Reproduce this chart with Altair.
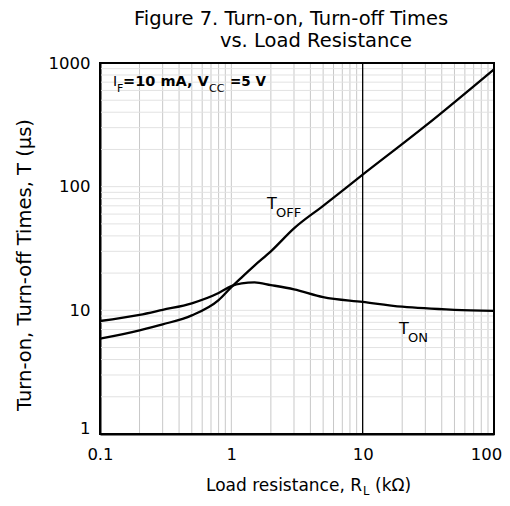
import altair as alt
import pandas as pd

# ---- data ----
r_on = [0.1, 0.2, 0.3, 0.5, 0.8, 1.0, 1.2, 1.5, 2, 3, 5, 10, 20, 50, 100]
t_on = [8.2, 9.2, 10.1, 11.4, 13.8, 15.7, 16.5, 16.8, 16.0, 14.8, 12.8, 11.7, 10.7, 10.1, 9.9]

r_off = [0.1, 0.2, 0.3, 0.5, 0.8, 1.0, 1.2, 1.5, 2, 3, 5, 10, 30, 100]
t_off = [5.9, 6.9, 7.7, 9.1, 12.1, 15.4, 18.5, 23, 30, 46, 70, 125, 310, 890]

x_domain = [0.1, 100]
y_domain = [1, 1000]
x_ticks = [0.1, 1, 10, 100]
y_ticks = [1, 10, 100, 1000]
x_grid = [0.2, 0.3, 0.4, 0.5, 0.6, 0.7, 0.8, 0.9, 1,
          2, 3, 4, 5, 6, 7, 8, 9,
          20, 30, 40, 50, 60, 70, 80, 90]
x_major = [10]
y_grid = [2, 3, 4, 5, 6, 7, 8, 9, 10,
          20, 30, 40, 50, 60, 70, 80, 90, 100,
          200, 300, 400, 500, 600, 700, 800, 900]

FONT = "DejaVu Sans"
W, H = 394, 371
OX, OY = 100, 63  # plot-area origin on page (for annotation placement)

xs = alt.Scale(type="log", domain=x_domain, nice=False)
ys = alt.Scale(type="log", domain=y_domain, nice=False)

x_axis = alt.Axis(values=x_ticks, format="~g", grid=False, ticks=False,
                  domain=True, domainColor="black", domainWidth=2,
                  labelFont=FONT, labelFontSize=16.5, labelColor="black",
                  labelPadding=12, labelFlush=False, title=None,
                  labelOffset=alt.expr("datum.value == 100 ? -8 : 0"))
y_axis = alt.Axis(values=y_ticks, format="~g", grid=False, ticks=False,
                  domain=True, domainColor="black", domainWidth=2,
                  labelFont=FONT, labelFontSize=16.5, labelColor="black",
                  labelPadding=10, title=None,
                  labelOffset=alt.expr("datum.value == 1 ? -6 : 0"))

curves = pd.concat([
    pd.DataFrame({"R": r_on, "T": t_on, "s": "ON"}),
    pd.DataFrame({"R": r_off, "T": t_off, "s": "OFF"}),
])

vgrid = alt.Chart(pd.DataFrame({"v": x_grid})).mark_rule(
    color="#c8c8c8", strokeWidth=1
).encode(x=alt.X("v:Q", scale=xs, axis=x_axis))

hgrid = alt.Chart(pd.DataFrame({"h": y_grid})).mark_rule(
    color="#e2e2e2", strokeWidth=1
).encode(y=alt.Y("h:Q", scale=ys, axis=y_axis))

vmajor = alt.Chart(pd.DataFrame({"v": x_major})).mark_rule(
    color="black", strokeWidth=1.3
).encode(x=alt.X("v:Q", scale=xs, axis=x_axis))

lines = alt.Chart(curves).mark_line(
    color="black", strokeWidth=2.3, interpolate="monotone"
).encode(
    x=alt.X("R:Q", scale=xs, axis=x_axis),
    y=alt.Y("T:Q", scale=ys, axis=y_axis),
    detail="s:N",
)

one = pd.DataFrame({"k": [0]})
frame_top = alt.Chart(one).mark_rule(color="black", strokeWidth=2).encode(
    x=alt.value(0), x2=alt.value(W), y=alt.value(0))
frame_right = alt.Chart(one).mark_rule(color="black", strokeWidth=2).encode(
    x=alt.value(W), y=alt.value(0), y2=alt.value(H))
frame_left = alt.Chart(one).mark_rule(color="black", strokeWidth=2).encode(
    x=alt.value(0), y=alt.value(0), y2=alt.value(H))
frame_bottom = alt.Chart(one).mark_rule(color="black", strokeWidth=2).encode(
    x=alt.value(0), x2=alt.value(W), y=alt.value(H))


def txt(s, px, py, size, align="left", angle=0, weight="normal"):
    return alt.Chart(one).mark_text(
        text=s, font=FONT, fontSize=size, align=align, baseline="alphabetic",
        angle=angle, fontWeight=weight, color="black"
    ).encode(x=alt.value(px - OX), y=alt.value(py - OY))


texts = [
    # title
    txt("Figure 7. Turn-on, Turn-off Times", 291, 25, 19.5, align="center"),
    txt("vs. Load Resistance", 316, 47, 19.5, align="center"),
    # condition
    txt("I", 113, 86, 14),
    txt("F", 117, 92, 11),
    txt("=10 mA, V", 123, 86, 14.5, weight="bold"),
    txt("CC", 209, 92, 11),
    txt("=5 V", 230, 86, 13.5, weight="bold"),
    # curve labels
    txt("T", 267, 209, 16),
    txt("OFF", 276, 217, 13),
    txt("T", 399, 334, 16),
    txt("ON", 408, 342, 13),
    # x axis title
    txt("Load resistance, R", 362, 491, 17, align="right"),
    txt("L", 363, 495, 11.5),
    txt("(kΩ)", 375, 491, 17),
    # y axis title
    txt("Turn-on, Turn-off Times, T (µs)", 31, 265, 19.5, align="center", angle=270),
]

chart = alt.layer(vgrid, hgrid, vmajor, lines,
                  frame_top, frame_right, frame_left, frame_bottom, *texts).properties(
    width=W, height=H,
    background="white",
    autosize=alt.AutoSizeParams(type="none"),
    padding={"left": 92, "top": 55, "right": 8, "bottom": 64},
).configure_view(stroke="black", strokeWidth=2)

chart.save("out.html", embed_options={"renderer": "svg", "actions": False})
